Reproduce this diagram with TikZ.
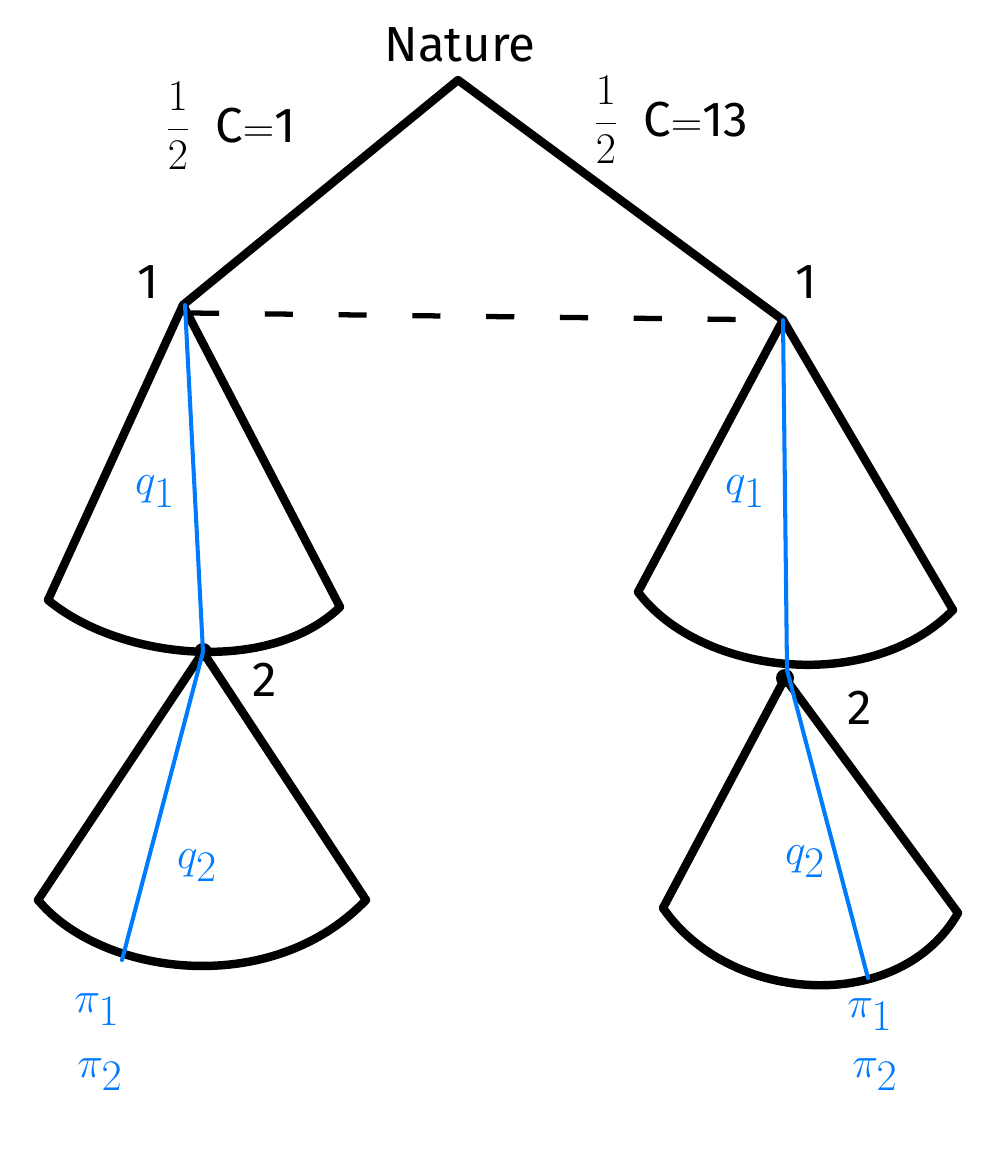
\documentclass[tikz,border=0pt]{standalone}
\usepackage{fontspec}
\setmainfont{Fira Sans}
\usepackage{tikz}
\usetikzlibrary{positioning}

\begin{document}
\begin{tikzpicture}[x=0.02cm,y=-0.02cm,
  edge/.style={line width=4.8pt,line cap=round,line join=round},
  path/.style={draw={rgb,255:red,0;green,122;blue,255},line width=2.3pt,line cap=round},
  lbl/.style={font=\fontsize{28}{30}\selectfont,inner sep=0pt},
  blbl/.style={font=\fontsize{34}{36}\selectfont,inner sep=0pt,text={rgb,255:red,0;green,122;blue,255}}]
\useasboundingbox (0,0) rectangle (1000,1163);
% decision points
\coordinate (nat) at (458,80);
\coordinate (la) at (183,305);
\coordinate (ra) at (783,320);
\coordinate (lb) at (203,652);
\coordinate (rb) at (785,678);
% nature's move
\draw[edge] (la)--(nat)--(ra);
\node[lbl] (natl) at (460,45) {Nature};
\node[lbl] (lp) at (178,126) {$\displaystyle\frac{1}{2}$};
\node[lbl,right=14pt of lp] (lc) {C$=$1};
\node[lbl] (rp) at (606,120) {$\displaystyle\frac{1}{2}$};
\node[lbl,right=14pt of rp] (rc) {C$=$13};
\draw[line width=3pt,dash pattern=on 16pt off 26pt] (la) ++(8,8) -- (ra);
\node[lbl] (l1) at (148,282) {1};
\node[lbl] (r1) at (806,282) {1};
% player 1 fans
\draw[edge] (48,600)--(la)--(340,607);
\draw[edge] (48,600) .. controls (120,660) and (270,675) .. (340,607);
\draw[edge] (638,592)--(ra)--(953,610);
\draw[edge] (638,592) .. controls (700,675) and (870,695) .. (953,610);
% player 2 fans
\fill (lb) circle (9);
\fill (rb) circle (9);
\draw[edge] (38,900)--(lb)--(366,900);
\draw[edge] (38,900) .. controls (100,975) and (270,1000) .. (366,900);
\draw[edge] (663,908)--(rb)--(958,913);
\draw[edge] (663,908) .. controls (730,1005) and (900,1015) .. (958,913);
\node[lbl] (l2) at (265,680) {2};
\node[lbl] (r2) at (860,708) {2};
% chosen paths
\coordinate (lend) at (122,960);
\coordinate (rend) at (868,978);
\draw[path] (185,305)--(lb)--(lend);
\draw[path] (ra)--(787,670)--(rend);
\node[blbl] (lq1) at (155,492) {$q_1$};
\node[blbl] (rq1) at (745,492) {$q_1$};
\node[blbl] (lq2) at (197,866) {$q_2$};
\node[blbl] (rq2) at (805,862) {$q_2$};
\node[blbl] (lpi1) at (97,1010) {$\pi_1$};
\node[blbl] (lpi2) at (100,1075) {$\pi_2$};
\node[blbl] (rpi1) at (870,1015) {$\pi_1$};
\node[blbl] (rpi2) at (875,1075) {$\pi_2$};
\end{tikzpicture}
\end{document}
